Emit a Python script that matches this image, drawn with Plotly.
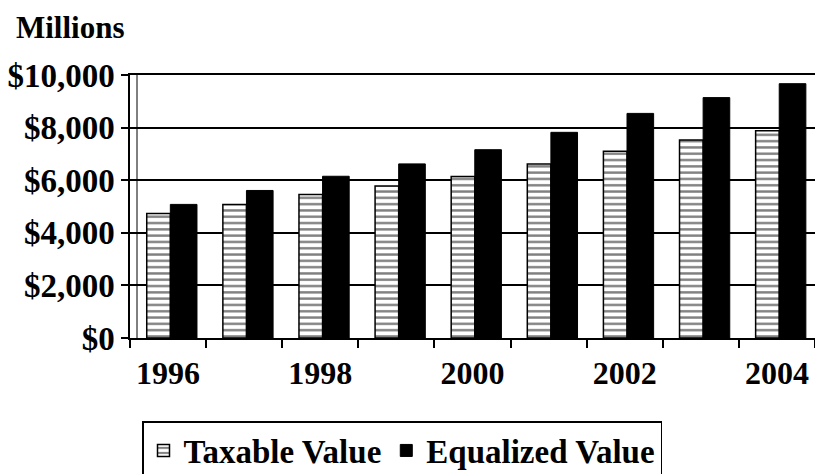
import plotly.graph_objects as go

years = ["1996", "1997", "1998", "1999", "2000", "2001", "2002", "2003", "2004"]
year_labels = ["1996", "", "1998", "", "2000", "", "2002", "", "2004"]
taxable = [4730, 5080, 5460, 5780, 6140, 6620, 7100, 7530, 7880]
equalized = [5080, 5610, 6150, 6620, 7160, 7820, 8540, 9140, 9670]
y_ticks = [0, 2000, 4000, 6000, 8000, 10000]
y_tick_labels = ["$0", "$2,000", "$4,000", "$6,000", "$8,000", "$10,000"]

FONT = "Liberation Serif"
W, H = 815, 474
ML, MR, MT, MB = 130, 0, 75, 136
PW, PH = W - ML - MR, H - MT - MB

fig = go.Figure()
fig.add_trace(go.Bar(
    x=years, y=taxable, name="Taxable Value",
    offset=-0.28, width=0.31,
    marker=dict(color="white",
                line=dict(color="black", width=1.5),
                pattern=dict(shape="-", fgcolor="black", bgcolor="white",
                             size=6.3, solidity=0.38)),
))
fig.add_trace(go.Bar(
    x=years, y=equalized, name="Equalized Value",
    offset=0.03, width=0.35,
    marker=dict(color="black", line=dict(color="black", width=1)),
))

fig.update_layout(
    width=W, height=H,
    margin=dict(l=ML, r=MR, t=MT, b=MB, autoexpand=False),
    paper_bgcolor="white", plot_bgcolor="white",
    font=dict(family=FONT, size=31, color="black", weight="bold"),
    showlegend=True,
    legend=dict(
        orientation="h", x=(142 - ML) / PW, xanchor="left",
        y=(H - MB - 421) / PH, yanchor="top",
        bordercolor="black", borderwidth=1.5,
        font=dict(family=FONT, size=33, color="black", weight="bold"),
        itemwidth=30, traceorder="normal", tracegroupgap=0,
    ),
    xaxis=dict(
        type="category", tickmode="array", tickvals=years, ticktext=year_labels,
        tickson="boundaries", ticks="outside", ticklen=8, tickwidth=1.5,
        tickcolor="black", showline=True, linecolor="black", linewidth=1.5,
        mirror=True, showgrid=False, automargin=False, ticklabelstandoff=6,
        tickfont=dict(family=FONT, size=32, color="black", weight="bold"),
        range=[-0.5, 8.5],
    ),
    yaxis=dict(
        range=[0, 10000], tickmode="array", tickvals=y_ticks,
        ticktext=y_tick_labels, ticks="outside", ticklen=7,
        tickwidth=1.5, tickcolor="black", automargin=False,
        showline=True, linecolor="black", linewidth=1.5,
        showgrid=True, gridcolor="black", gridwidth=1.5, zeroline=False,
        tickfont=dict(family=FONT, size=33, color="black", weight="bold"),
    ),
    shapes=[dict(
        type="line", xref="paper", yref="paper",
        x0=7 / PW, x1=7 / PW, y0=0, y1=1,
        line=dict(color="black", width=1),
    )],
    annotations=[dict(
        text="Millions", xref="paper", yref="paper",
        x=(14 - ML) / PW, y=(H - MB - 27) / PH,
        xanchor="left", yanchor="middle", showarrow=False,
        font=dict(family=FONT, size=31, color="black", weight="bold"),
    )],
)

fig.write_html(
    "out.html",
    config={"displayModeBar": False},
    post_script="document.body.style.margin='0';document.body.style.overflow='hidden';",
)
